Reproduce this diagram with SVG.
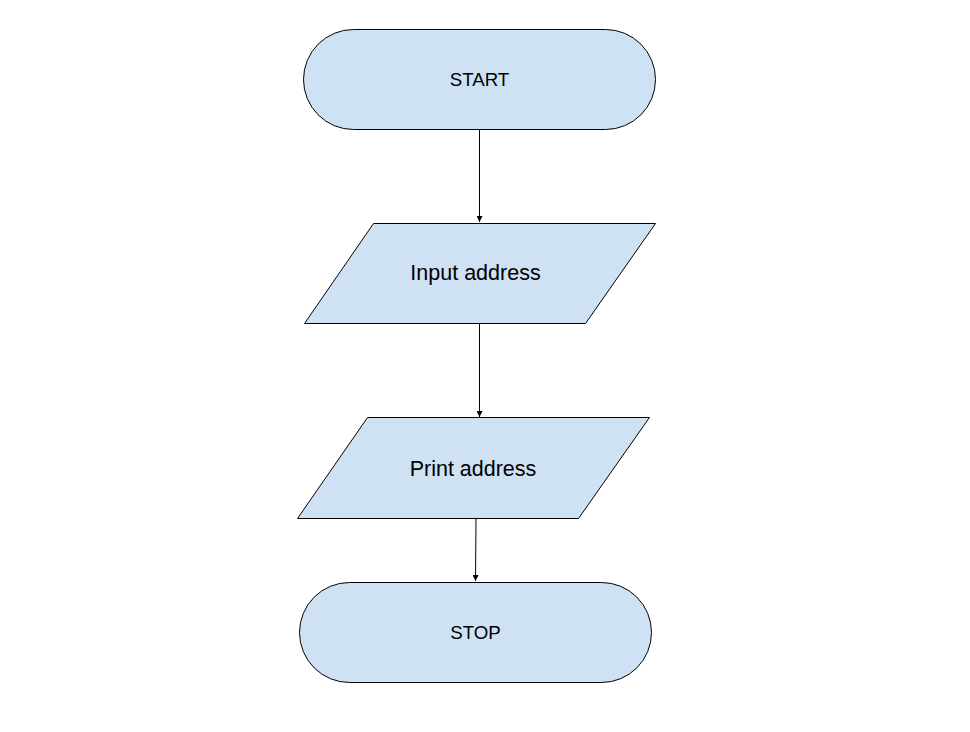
<svg xmlns="http://www.w3.org/2000/svg" width="970" height="732" viewBox="0 0 970 732">
<style>
.n{fill:#cfe2f3;stroke:#000;stroke-width:1}
.t{font-family:"Liberation Sans",Arial,sans-serif;fill:#000;text-anchor:middle;dominant-baseline:central}
.c{stroke:#000;stroke-width:1;fill:none;marker-end:url(#ah)}
</style>
<defs>
<marker id="ah" viewBox="0 0 6 6" refX="6" refY="3" markerWidth="6" markerHeight="6" markerUnits="userSpaceOnUse" orient="auto">
<path d="M0,0 L6,3 L0,6 Z" fill="#000"/>
</marker>
</defs>
<rect width="970" height="732" fill="#fff"/>
<g id="connectors">
<line class="c" x1="479.5" y1="129" x2="479.5" y2="222"/>
<line class="c" x1="479.5" y1="323" x2="479.5" y2="417"/>
<line class="c" x1="476" y1="518" x2="475.5" y2="581"/>
</g>
<g id="start">
<rect class="n" x="303.5" y="29.5" width="352" height="100" rx="50" ry="50"/>
<text class="t" x="479.5" y="79" font-size="18.7">START</text>
</g>
<g id="input">
<polygon class="n" points="373.5,223.5 655.5,223.5 585.5,323.5 304.5,323.5"/>
<text class="t" x="475.5" y="273" font-size="21.5">Input address</text>
</g>
<g id="print">
<polygon class="n" points="367.5,417.5 649.5,417.5 578.5,518.5 297.5,518.5"/>
<text class="t" x="473" y="469" font-size="21.5">Print address</text>
</g>
<g id="stop">
<rect class="n" x="299.5" y="582.5" width="352" height="100" rx="50" ry="50"/>
<text class="t" x="475.5" y="632" font-size="18.7">STOP</text>
</g>
</svg>
